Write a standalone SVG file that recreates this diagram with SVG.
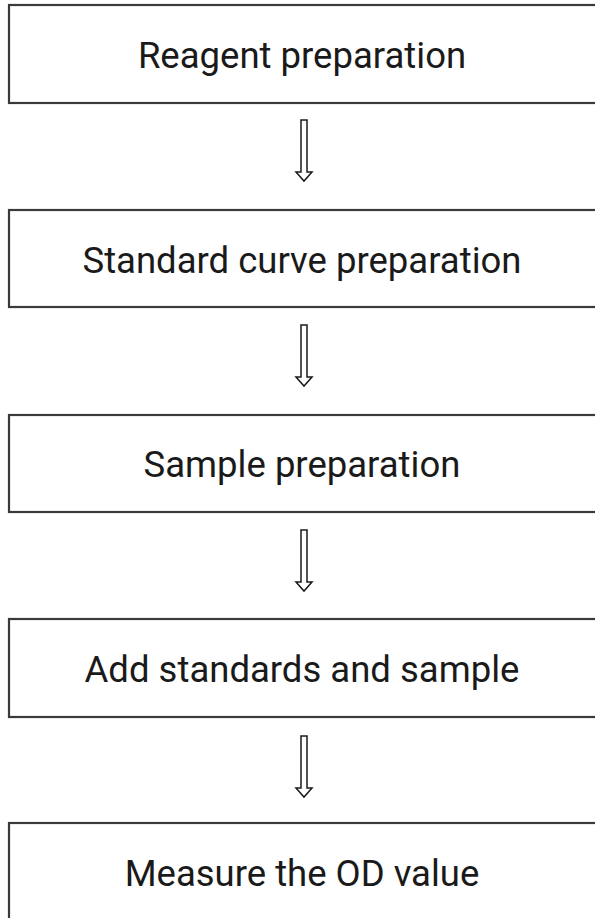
<svg xmlns="http://www.w3.org/2000/svg" width="595" height="918" viewBox="0 0 595 918">
<style>
.box{fill:#fff;stroke:#3a3a3a;stroke-width:2.2}
.lbl{font-family:Roboto,"Liberation Sans",sans-serif;font-size:36.5px;fill:#1a1a1a;text-anchor:middle}
.arr{fill:#fff;stroke:#1a1a1a;stroke-width:1.5;stroke-linejoin:miter}
</style>
<defs>
<path id="arrow" class="arr" d="M301,0 H307 V52 H312 L304,61 L296,52 H301 Z"/>
</defs>
<rect width="595" height="918" fill="#fff"/>
<g id="node1"><rect class="box" x="9" y="5" width="600" height="98"/><text class="lbl" x="302" y="68">Reagent preparation</text></g>
<g id="node2"><rect class="box" x="9" y="210" width="600" height="97"/><text class="lbl" x="302" y="273">Standard curve preparation</text></g>
<g id="node3"><rect class="box" x="9" y="415" width="600" height="97"/><text class="lbl" x="302" y="477">Sample preparation</text></g>
<g id="node4"><rect class="box" x="9" y="619" width="600" height="98"/><text class="lbl" x="302" y="682">Add standards and sample</text></g>
<g id="node5"><rect class="box" x="9" y="823" width="600" height="120"/><text class="lbl" x="302" y="886">Measure the OD value</text></g>
<g id="connectors">
<use href="#arrow" y="120"/>
<use href="#arrow" y="325"/>
<use href="#arrow" y="530"/>
<use href="#arrow" y="736"/>
</g>
</svg>
